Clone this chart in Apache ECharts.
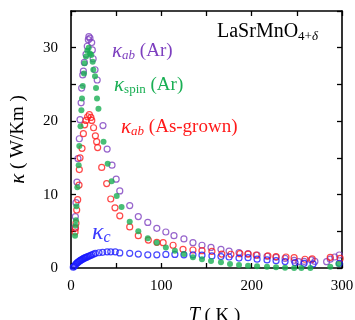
<!DOCTYPE html>
<html><head><meta charset="utf-8">
<script src="https://cdn.jsdelivr.net/npm/echarts@6/dist/echarts.min.js"></script>
<style>html,body{margin:0;padding:0;background:#fff}#c{width:355px;height:320px}</style>
</head><body><div id="c"></div>
<script>
// κ_ab (Ar) : [T (K), κ (W/Km)]
const kabAr = [[4.5,5.5],[4.8,7.0],[5.5,8.9],[6.6,11.7],[7.7,14.9],[9.2,17.6],[10,20.2],[11.2,22.5],[11.8,24.5],[13,26.3],[13.7,26.8],[14.8,28.0],[16.6,29.1],[18,30.2],[19.2,31.1],[19.8,31.5],[21,31.3],[22.9,30.7],[23.6,29.7],[24.5,28.5],[26.6,27.0],[29,25.6],[35.4,19.4],[40,16.2],[45.4,14.0],[50,12.1],[54,10.5],[65,8.5],[74.5,7.0],[85,6.2],[95,5.4],[105,4.9],[114,4.4],[125,3.96],[135,3.45],[145,3.1],[155,2.8],[166,2.55],[175,2.3],[186,2.1],[196,1.95],[206,1.75],[217,1.6],[227,1.45],[237,1.3],[247,1.05],[252,0.86],[258,0.9],[266,1.1],[270,0.9],[283,0.86],[287,1.2],[292,1.5],[297,1.77]];
// κ_spin (Ar)
const kspinAr = [[4.5,4.4],[5,5.8],[5.5,6.5],[6,8.4],[7,11.0],[8.5,14.0],[9.2,16.6],[10.5,19.3],[11.5,21.5],[12.2,23.1],[13,24.8],[14.4,26.5],[15,27.9],[16.6,28.8],[18,29.6],[19.6,30.0],[21,29.2],[22.5,29.0],[24,28.1],[24.7,27.0],[26.6,26.1],[27.7,24.5],[28.8,23.1],[30.4,21.7],[36,17.2],[40.6,14.2],[45,11.8],[50.6,9.8],[56,8.3],[65,6.3],[74.5,5.0],[85,4.05],[95,3.45],[105,2.8],[115,2.36],[125,1.9],[135,1.46],[145,1.19],[155,0.96],[166,0.78],[176,0.55],[186,0.41],[196,0.32],[206,0.23],[217,0.18],[227,0.1],[237,0.05],[247,0.0],[255,0.0],[265,0.0],[287,0.18],[296,0.55]];
// κ_ab (As-grown)
const kabAsGrown = [[4.5,4.9],[5,5.4],[5.5,6.1],[6.3,7.9],[7.4,9.3],[8.9,11.3],[9.2,13.4],[10,15.0],[12.2,16.3],[13.7,18.3],[15.1,19.5],[16.6,20.1],[18.4,20.6],[20.3,20.9],[22,20.5],[23,20.1],[25,19.1],[27,18.0],[28.4,17.2],[29.5,16.4],[34,13.7],[39.5,11.5],[44,9.4],[48.7,8.2],[54,7.1],[65,5.6],[74.5,4.4],[85.6,3.8],[95,3.5],[102,3.45],[113,3.1],[124,2.55],[135,2.45],[145,2.36],[156,2.27],[167,1.9],[177,1.87],[187,1.95],[196,1.9],[205,1.77],[218,1.64],[227,1.54],[238,1.5],[247,1.4],[259,1.19],[267,1.23],[287,1.46],[298,1.3]];
// κ_c
const kc = [[2.5,0.1],[3.2,0.2],[4,0.3],[5,0.45],[6,0.6],[7,0.72],[8,0.82],[9,0.92],[10,1.0],[11,1.08],[12,1.15],[13,1.22],[14,1.3],[15,1.36],[16,1.42],[17.3,1.48],[18.5,1.55],[20,1.63],[21.5,1.7],[23,1.8],[25,1.9],[27,2.0],[31,2.08],[35,2.14],[40,2.2],[44,2.2],[49,2.2],[54,2.05],[65,2.0],[74.5,1.9],[85,1.8],[95,1.8],[105,1.85],[115,1.85],[125,1.8],[135,1.8],[145,1.75],[156,1.64],[166,1.55],[175,1.5],[186,1.35],[196,1.4],[206,1.2],[217,1.1],[227,1.0],[237,0.88],[248,0.74],[258,0.64],[268,0.55],[297,0.64]];
const xTicks = [0,100,200,300];
const yTicks = [0,10,20,30];

const PURPLE='#7d3fbf', GREEN='#1aaf54', RED='#ff1a1a', BLUE='#1a1aff';
const SERIF='"Liberation Serif","Times New Roman",serif';

const chart = echarts.init(document.getElementById('c'), null, {renderer:'canvas'});
function axisCommon(){
  return {
    axisLine:{show:true,onZero:false,lineStyle:{color:'#000',width:1.6}},
    axisTick:{show:true,inside:true,length:5,lineStyle:{color:'#000',width:1.3}},
    splitLine:{show:false}
  };
}
const openCircle = (c)=>({color:'rgba(255,255,255,0)',borderColor:c,borderWidth:1.2});
const T = (family, size, color, extra)=>Object.assign({fontFamily:family,fontSize:size,color:color,fontWeight:'normal'},extra||{});
chart.setOption({
  animation:false,
  backgroundColor:'#fff',
  grid:{left:71,right:13,top:11,bottom:52,containLabel:false,outerBoundsMode:'none'},
  xAxis:[
    Object.assign(axisCommon(),{type:'value',min:0,max:300,interval:50,position:'bottom',
      axisLabel:{fontFamily:SERIF,fontSize:15,color:'#000',margin:11,
        formatter:v=>xTicks.includes(v)?String(v):''},
      name:'{i|T}{n| ( K )}',nameLocation:'middle',nameGap:38,
      nameTextStyle:{padding:[0,0,0,16],rich:{i:T(SERIF,20,'#000',{fontStyle:'italic'}),n:T(SERIF,19,'#000')}}}),
    Object.assign(axisCommon(),{type:'value',min:0,max:300,interval:50,position:'top',axisLabel:{show:false}})
  ],
  yAxis:[
    Object.assign(axisCommon(),{type:'value',min:0,max:35,interval:5,position:'left',
      axisLabel:{fontFamily:SERIF,fontSize:15,color:'#000',margin:13,
        formatter:v=>yTicks.includes(v)?String(v):''},
      name:'{i|κ}{n| ( W/Km )}',nameLocation:'middle',nameGap:42,
      nameTextStyle:{rich:{i:T(SERIF,21,'#000',{fontStyle:'italic'}),n:T(SERIF,19,'#000')}}}),
    Object.assign(axisCommon(),{type:'value',min:0,max:35,interval:5,position:'right',axisLabel:{show:false}})
  ],
  title:[
    {left:212,top:16,text:'{n|LaSrMnO}{s|4+}{d|δ}',textStyle:{fontWeight:'normal',rich:{
      n:T(SERIF,20,'#000'),
      s:T(SERIF,13,'#000',{padding:[9,0,0,0]}),
      d:T(SERIF,13,'#000',{fontStyle:'italic',padding:[9,0,0,0]})}}},
    {left:107,top:35,text:'{k|κ}{s|ab}{n| (Ar)}',textStyle:{fontWeight:'normal',rich:{
      k:T(SERIF,21,PURPLE,{fontStyle:'italic'}),
      s:T(SERIF,13,PURPLE,{fontStyle:'italic',padding:[9,0,0,0]}),
      n:T(SERIF,19,PURPLE)}}},
    {left:109,top:69,text:'{k|κ}{s|spin}{n| (Ar)}',textStyle:{fontWeight:'normal',rich:{
      k:T(SERIF,21,GREEN,{fontStyle:'italic'}),
      s:T(SERIF,13,GREEN,{padding:[9,0,0,0]}),
      n:T(SERIF,19,GREEN)}}},
    {left:116,top:111,text:'{k|κ}{s|ab}{n| (As-grown)}',textStyle:{fontWeight:'normal',rich:{
      k:T(SERIF,21,RED,{fontStyle:'italic'}),
      s:T(SERIF,13,RED,{fontStyle:'italic',padding:[9,0,0,0]}),
      n:T(SERIF,19,RED)}}},
    {left:87,top:215,text:'{k|κ}{s|c}',textStyle:{fontWeight:'normal',rich:{
      k:T(SERIF,24,'#3a3aff',{fontStyle:'italic'}),
      s:T(SERIF,16,'#3a3aff',{fontStyle:'italic',padding:[10,0,0,0]})}}}
  ],
  series:[
    {type:'scatter',name:'kabAr',data:kabAr,symbol:'circle',symbolSize:6,itemStyle:openCircle(PURPLE)},
    {type:'scatter',name:'kabAsGrown',data:kabAsGrown,symbol:'circle',symbolSize:6,itemStyle:openCircle(RED)},
    {type:'scatter',name:'kc',data:kc,symbol:'circle',symbolSize:6,itemStyle:openCircle(BLUE)},
    {type:'scatter',name:'kspinAr',data:kspinAr,symbol:'circle',symbolSize:6,itemStyle:{color:GREEN}}
  ]
});
</script></body></html>
